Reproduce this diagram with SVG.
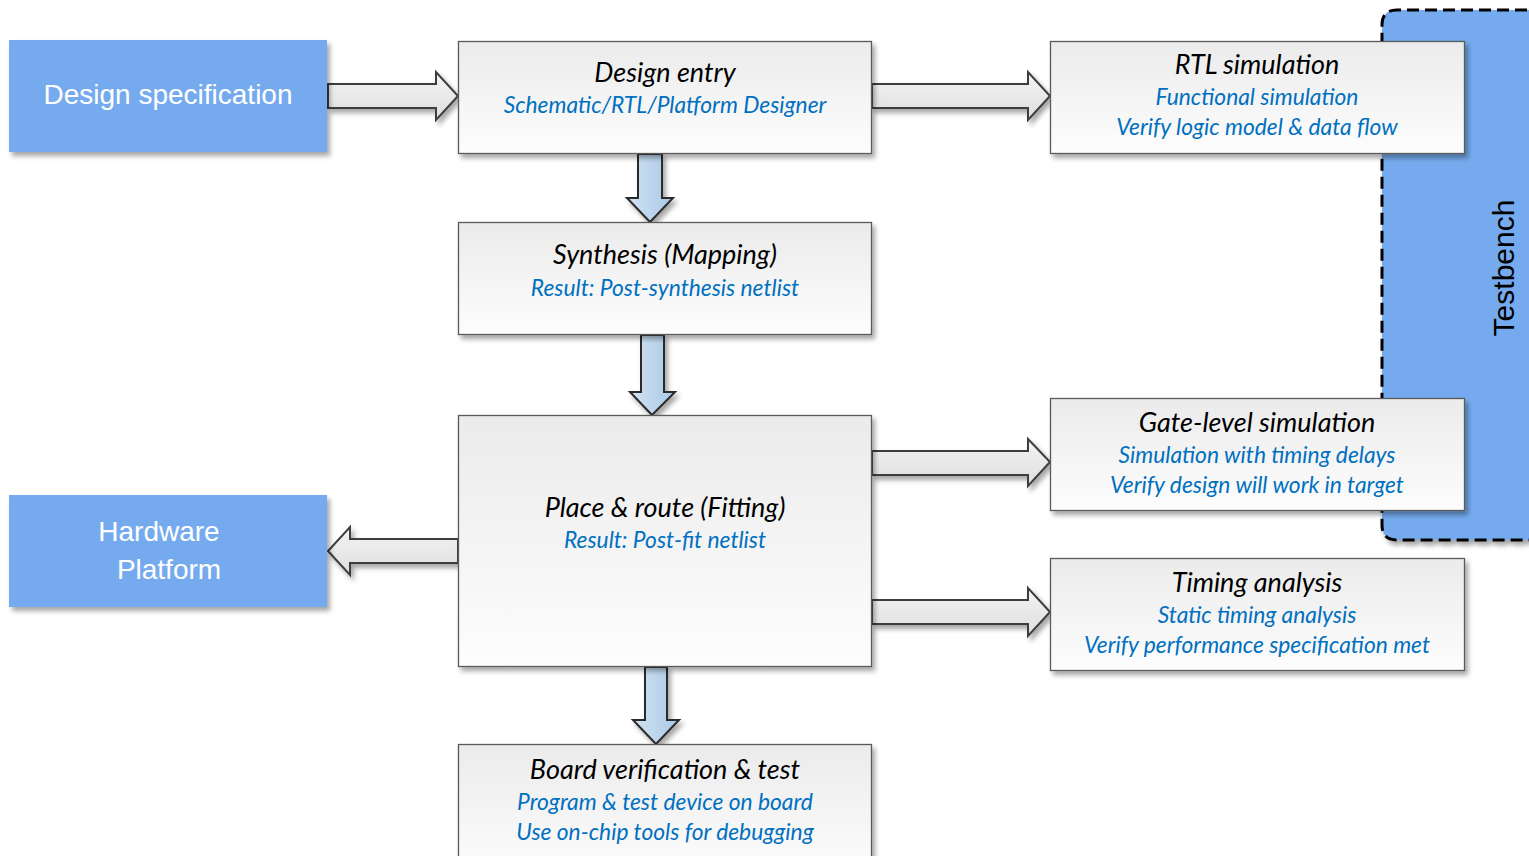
<svg xmlns="http://www.w3.org/2000/svg" width="1529" height="856" viewBox="0 0 1529 856">
  <defs>
    <linearGradient id="boxFill" x1="0" y1="0" x2="0" y2="1">
      <stop offset="0" stop-color="#ebebeb"/>
      <stop offset="1" stop-color="#fdfdfd"/>
    </linearGradient>
    <linearGradient id="hArrowFill" x1="0" y1="0" x2="0" y2="1">
      <stop offset="0" stop-color="#f4f4f4"/>
      <stop offset="1" stop-color="#dedede"/>
    </linearGradient>
    <linearGradient id="vArrowFill" x1="0" y1="0" x2="1" y2="0">
      <stop offset="0" stop-color="#d3e3f3"/>
      <stop offset="1" stop-color="#a9c8e6"/>
    </linearGradient>
    <filter id="shadow" x="-10%" y="-10%" width="125%" height="130%">
      <feDropShadow dx="3" dy="4" stdDeviation="2.5" flood-color="#000" flood-opacity="0.35"/>
    </filter>
    <style>
      .blue { fill: #74abee; }
      .proc { fill: url(#boxFill); stroke: #5a5a5a; stroke-width: 1.3; }
      .harrow { fill: url(#hArrowFill); stroke: #3c3c3c; stroke-width: 2; stroke-linejoin: miter; }
      .varrow { fill: url(#vArrowFill); stroke: #2b2b2b; stroke-width: 2; stroke-linejoin: miter; }
      .white { font-family: "Liberation Sans", Arial, sans-serif; font-size: 28px; fill: #ffffff; text-anchor: middle; }
      .title { font-family: Lato, "Open Sans", sans-serif; font-style: italic; font-size: 27px; fill: #000000; text-anchor: middle; }
      .sub { font-family: Lato, "Open Sans", sans-serif; font-style: italic; font-size: 22.8px; fill: #0070c0; text-anchor: middle; }
      .tb { font-family: "Liberation Sans", Arial, sans-serif; font-size: 30px; fill: #000000; text-anchor: middle; }
    </style>
  </defs>

  <!-- Testbench region behind the simulation steps -->
  <g id="testbench">
    <path d="M1545 10 H1397 Q1382 10 1382 25 V525 Q1382 540 1397 540 H1545 Z" class="blue" stroke="#000" stroke-width="3" stroke-dasharray="12 6" filter="url(#shadow)"/>
    <text class="tb" transform="translate(1514 268) rotate(-90)">Testbench</text>
  </g>

  <!-- Connectors -->
  <g id="connectors" filter="url(#shadow)">
    <!-- spec -> design entry -->
    <path class="harrow" d="M328 84 H436 V72 L458 96 L436 120 V108 H328 Z"/>
    <!-- design entry -> RTL simulation -->
    <path class="harrow" d="M872 84 H1028 V72 L1050 96 L1028 120 V108 H872 Z"/>
    <!-- place & route -> gate-level simulation -->
    <path class="harrow" d="M872 451 H1028 V439 L1050 462 L1028 486 V475 H872 Z"/>
    <!-- place & route -> timing analysis -->
    <path class="harrow" d="M872 600 H1028 V588 L1050 612 L1028 636 V624 H872 Z"/>
    <!-- place & route -> hardware platform -->
    <path class="harrow" d="M458 539 H350 V527 L328 551 L350 575 V563 H458 Z"/>
    <!-- design entry -> synthesis -->
    <path class="varrow" d="M638 154 V198 H627 L650 222 L673 198 H662 V154 Z"/>
    <!-- synthesis -> place & route -->
    <path class="varrow" d="M641 335 V392 H630 L652 415 L675 392 H664 V335 Z"/>
    <!-- place & route -> board verification -->
    <path class="varrow" d="M645 667 V720 H633 L656 744 L679 720 H667 V667 Z"/>
  </g>

  <!-- Nodes -->
  <g id="design-spec">
    <rect x="9" y="40" width="318" height="112" class="blue" filter="url(#shadow)"/>
    <text class="white" x="168" y="104">Design specification</text>
  </g>

  <g id="hardware-platform">
    <rect x="9" y="495" width="318" height="112" class="blue" filter="url(#shadow)"/>
    <text class="white" x="159" y="541">Hardware</text>
    <text class="white" x="169" y="579">Platform</text>
  </g>

  <g id="design-entry">
    <rect x="458.5" y="41.5" width="413" height="112" class="proc" filter="url(#shadow)"/>
    <text class="title" x="665" y="82">Design entry</text>
    <text class="sub" x="665" y="113">Schematic/RTL/Platform Designer</text>
  </g>

  <g id="rtl-simulation">
    <rect x="1050.5" y="41.5" width="414" height="112" class="proc" filter="url(#shadow)"/>
    <text class="title" x="1257" y="74">RTL simulation</text>
    <text class="sub" x="1257" y="105">Functional simulation</text>
    <text class="sub" x="1257" y="135">Verify logic model &amp; data flow</text>
  </g>

  <g id="synthesis">
    <rect x="458.5" y="222.5" width="413" height="112" class="proc" filter="url(#shadow)"/>
    <text class="title" x="665" y="264">Synthesis (Mapping)</text>
    <text class="sub" x="665" y="296">Result: Post-synthesis netlist</text>
  </g>

  <g id="place-route">
    <rect x="458.5" y="415.5" width="413" height="251" class="proc" filter="url(#shadow)"/>
    <text class="title" x="665" y="517">Place &amp; route (Fitting)</text>
    <text class="sub" x="665" y="548">Result: Post-fit netlist</text>
  </g>

  <g id="gate-level-simulation">
    <rect x="1050.5" y="398.5" width="414" height="112" class="proc" filter="url(#shadow)"/>
    <text class="title" x="1257" y="432">Gate-level simulation</text>
    <text class="sub" x="1257" y="463">Simulation with timing delays</text>
    <text class="sub" x="1257" y="493">Verify design will work in target</text>
  </g>

  <g id="timing-analysis">
    <rect x="1050.5" y="558.5" width="414" height="112" class="proc" filter="url(#shadow)"/>
    <text class="title" x="1257" y="592">Timing analysis</text>
    <text class="sub" x="1257" y="623">Static timing analysis</text>
    <text class="sub" x="1257" y="653">Verify performance specification met</text>
  </g>

  <g id="board-verification">
    <rect x="458.5" y="744.5" width="413" height="130" class="proc" filter="url(#shadow)"/>
    <text class="title" x="665" y="779">Board verification &amp; test</text>
    <text class="sub" x="665" y="810">Program &amp; test device on board</text>
    <text class="sub" x="665" y="840">Use on-chip tools for debugging</text>
  </g>
</svg>
